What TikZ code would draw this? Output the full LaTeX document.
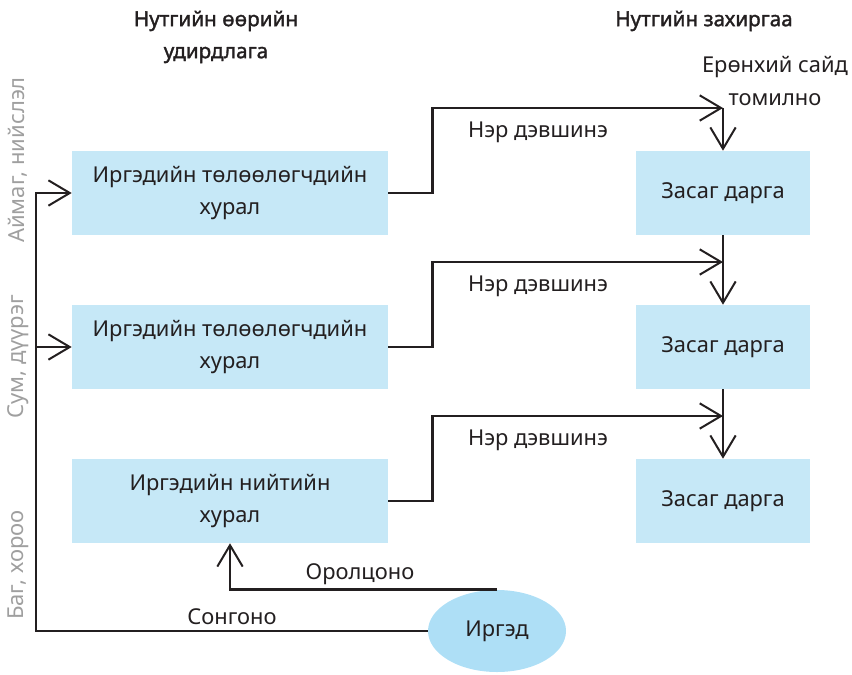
\documentclass[tikz,border=0pt]{standalone}
\usepackage{fontspec}
\setmainfont{Noto Sans}[AutoFakeBold=1.6]
\usetikzlibrary{arrows.meta,shapes.geometric,calc}

\definecolor{boxblue}{HTML}{C6E8F7}
\definecolor{ellblue}{HTML}{AEDFF6}
\definecolor{linegray}{HTML}{231F20}

\tikzset{
  box/.style={fill=boxblue, minimum width=316*0.75pt, minimum height=84*0.75pt,
    align=center, text=linegray, inner sep=0pt},
  head/.style={font=\fontsize{15.5}{24}\selectfont\bfseries, align=center, text=linegray},
  lbl/.style={text=linegray, align=center},
  side/.style={rotate=90, text=gray!75, font=\fontsize{16.5}{18}\selectfont},
  arr/.style={-{Straight Barb[length=16pt,width=19pt,line width=1.5pt]}, line width=2pt, draw=linegray}
}

\begin{document}
\begin{tikzpicture}[x=0.75pt, y=-0.75pt, font=\fontsize{16.4}{24.5}\selectfont]
  \useasboundingbox (0,0) rectangle (852,674);

  % headings
  \node[head] (hlocal) at (216,37) {Нутгийн өөрийн\\удирдлага};
  \node[head] (hadmin) at (704,21) {Нутгийн захиргаа};

  % level names on the left
  \node[side] (aimag) at (18,160) {Аймаг, нийслэл};
  \node[side] (sum) at (18,357) {Сум, дүүрэг};
  \node[side] (bag) at (18,565) {Баг, хороо};

  % councils
  \node[box] (hural1) at (230,193) {Иргэдийн төлөөлөгчдийн\\хурал};
  \node[box] (hural2) at (230,347) {Иргэдийн төлөөлөгчдийн\\хурал};
  \node[box] (hural3) at (230,501) {Иргэдийн нийтийн\\хурал};

  % governors
  \node[box, minimum width=174*0.75pt] (zasag1) at (723,193) {Засаг дарга};
  \node[box, minimum width=174*0.75pt] (zasag2) at (723,347) {Засаг дарга};
  \node[box, minimum width=174*0.75pt] (zasag3) at (723,501) {Засаг дарга};

  % citizens
  \node[ellipse, fill=ellblue, minimum width=138*0.75pt, minimum height=82*0.75pt,
    inner sep=0pt, text=linegray] (irged) at (497,631) {Иргэд};

  \node[lbl, anchor=south] (pm) at (775,110) {Ерөнхий сайд\\томилно};

  \coordinate (top1) at (zasag1.north |- 0,108);
  \coordinate (top2) at (zasag1.north |- 0,262);
  \coordinate (top3) at (zasag1.north |- 0,416);

  % nominations
  \foreach \i in {1,2,3} {
    \draw[arr] (hural\i.east) -- ++(44,0) |- (top\i);
    \node[lbl] (ner\i) at ($(top\i)+(-185,24)$) {Нэр дэвшинэ};
  }
  \draw[arr] (top1) -- (zasag1.north);
  \draw[arr] (zasag1.south) -- (zasag2.north);
  \draw[arr] (zasag2.south) -- (zasag3.north);

  % elections
  \coordinate (sl) at (36,0 |- irged.west);
  \draw[arr] (irged.west) -- (sl) |- (hural1.west);
  \draw[arr] (sl |- hural2.west) -- (hural2.west);
  \node[lbl] (songono) at (232,617) {Сонгоно};

  \draw[arr] (irged.north) -| (hural3.south);
  \node[lbl] (orolts) at (360,574) {Оролцоно};
\end{tikzpicture}
\end{document}
